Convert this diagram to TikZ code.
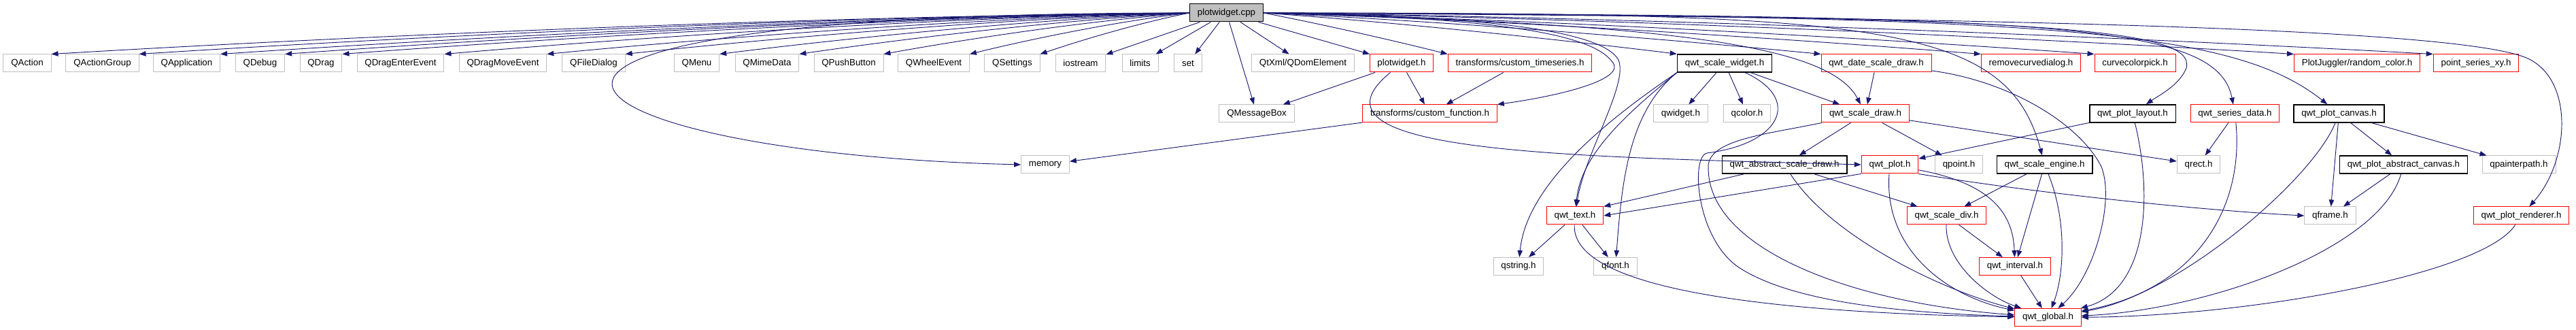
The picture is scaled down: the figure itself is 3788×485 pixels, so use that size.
\documentclass[tikz,border=0pt]{standalone}
\usepackage{fontspec}
\setmainfont{Liberation Sans}
\usepackage{tikz}
\usetikzlibrary{arrows.meta,calc}
\definecolor{depblue}{RGB}{25,25,112}
\definecolor{nodocgray}{RGB}{191,191,191}
\tikzset{
  hfile/.style={rectangle,font=\fontsize{10}{12}\selectfont,inner xsep=8.5pt,inner ysep=0pt,minimum height=19.5pt,fill=white,line width=0.75pt},
  rootfile/.style={hfile,draw=black,fill=nodocgray},
  extfile/.style={hfile,draw=nodocgray},
  docfile/.style={hfile,draw=black,line width=1.1pt},
  cutfile/.style={hfile,draw=red},
  dep/.style={-{Triangle[length=7.5pt,width=5.6pt]},line width=0.7pt,draw=depblue}
}

\begin{document}
\begin{tikzpicture}[x=0.75pt,y=0.75pt]
\useasboundingbox (0,0) rectangle (3788,485);

% files
\node[rootfile] (root) at (1803.5,466) {plotwidget.cpp};

\foreach \n/\x/\lab in {qaction/40/QAction,qactgroup/150.5/QActionGroup,qapp/274.5/QApplication,
  qdebug/382.5/QDebug,qdrag/472/QDrag,qdragenter/589/QDragEnterEvent,qdragmove/739.5/QDragMoveEvent,
  qfiledlg/873/QFileDialog,qmenu/1024.5/QMenu,qmimedata/1128/QMimeData,qpushbtn/1248/QPushButton,
  qwheel/1373/QWheelEvent,qsettings/1488.5/QSettings,iostream/1589/iostream,limits/1676.5/limits,
  set/1747/set,qtxml/1916/{QtXml/QDomElement}}{
  \node[extfile] (\n) at (\x,392) {\lab};
}
\foreach \n/\x/\lab in {pwidgeth/2061/plotwidget.h,ctimeser/2235/{transforms/custom\_timeseries.h},
  datedraw/2759/qwt\_date\_scale\_draw.h,rmcurve/2986.5/removecurvedialog.h,colorpick/3139.5/curvecolorpick.h,
  rndcolor/3466/{PlotJuggler/random\_color.h},ptseries/3641/point\_series\_xy.h}{
  \node[cutfile] (\n) at (\x,392) {\lab};
}
\node[docfile] (scalewidget) at (2536,392) {qwt\_scale\_widget.h};

\node[extfile] (qmsgbox) at (1848,318) {QMessageBox};
\node[cutfile] (cfunc) at (2102.5,318) {transforms/custom\_function.h};
\node[extfile] (qwidget) at (2471.5,318) {qwidget.h};
\node[extfile] (qcolor) at (2569,318) {qcolor.h};
\node[cutfile] (scaledraw) at (2743,318) {qwt\_scale\_draw.h};
\node[docfile] (plotlayout) at (3136,318) {qwt\_plot\_layout.h};
\node[cutfile] (seriesdata) at (3286.5,318) {qwt\_series\_data.h};
\node[docfile] (plotcanvas) at (3439.5,318) {qwt\_plot\_canvas.h};

\node[extfile] (memory) at (1537,243) {memory};
\node[docfile] (absdraw) at (2624,243) {qwt\_abstract\_scale\_draw.h};
\node[cutfile] (qwtplot) at (2779,243) {qwt\_plot.h};
\node[extfile] (qpoint) at (2880.5,243) {qpoint.h};
\node[docfile] (scaleengine) at (3006.5,243) {qwt\_scale\_engine.h};
\node[extfile] (qrect) at (3233,243) {qrect.h};
\node[docfile] (abscanvas) at (3534.5,243) {qwt\_plot\_abstract\_canvas.h};
\node[extfile] (qpainterpath) at (3704,243) {qpainterpath.h};

\node[cutfile] (qwttext) at (2316,168) {qwt\_text.h};
\node[cutfile] (scalediv) at (2862.5,168) {qwt\_scale\_div.h};
\node[extfile] (qframe) at (3426.5,168) {qframe.h};
\node[cutfile] (renderer) at (3707.5,168) {qwt\_plot\_renderer.h};

\node[extfile] (qstring) at (2233,93.5) {qstring.h};
\node[extfile] (qfont) at (2375.5,93.5) {qfont.h};
\node[cutfile] (interval) at (2963,93.5) {qwt\_interval.h};

\node[cutfile] (global) at (3011.5,18.5) {qwt\_global.h};

% includes of plotwidget.cpp
\foreach \n/\h in {qaction/16,qactgroup/16,qapp/15,qdebug/15,qdrag/14,qdragenter/14,qdragmove/13,qfiledlg/12,
  qmenu/11,qmimedata/10,qpushbtn/9,qwheel/8,qsettings/6}{
  \draw[dep] (root.west) .. controls ($(root.west)!0.35!(\n.north east)+(0,\h)$)
    and ($(root.west)!0.75!(\n.north east)+(0,0.6*\h)$) .. (\n.north east);
}
\foreach \n in {iostream,limits,set,qtxml,pwidgeth,qmsgbox}{
  \draw[dep] (root) -- (\n);
}
\foreach \n/\h in {ctimeser/3,scalewidget/6,datedraw/8,rmcurve/10,colorpick/11,rndcolor/13,ptseries/14}{
  \draw[dep] (root.east) .. controls ($(root.east)!0.35!(\n.north west)+(0,\h)$)
    and ($(root.east)!0.75!(\n.north west)+(0,0.6*\h)$) .. (\n.north west);
}
\draw[dep] (root.west) .. controls (520,466) and (800,260) .. (memory.west);
\draw[dep] (root.east) .. controls (2200,460) and (2340,435) .. (2370,395) .. controls (2395,370) and (2300,345) .. (cfunc.north east);
\draw[dep] (root.east) .. controls (2200,462) and (2350,438) .. (2378,400) .. controls (2400,370) and (2330,260) .. (qwttext);
\draw[dep] (root.east) .. controls (2450,450) and (2690,420) .. (scaledraw);
\draw[dep] (root.east) .. controls (2750,466) and (2950,455) .. (scaleengine);
\draw[dep] (root.east) .. controls (3000,462) and (3230,445) .. (3215,385) .. controls (3205,360) and (3175,345) .. (plotlayout);
\draw[dep] (root.east) .. controls (3000,462) and (3260,455) .. (seriesdata);
\draw[dep] (root.east) .. controls (3000,462) and (3280,445) .. (plotcanvas);
\draw[dep] (root.east) .. controls (2800,460) and (3600,448) .. (3715,400) .. controls (3785,370) and (3780,250) .. (renderer);

% second level
\draw[dep] (pwidgeth) -- (qmsgbox);
\draw[dep] (pwidgeth) -- (cfunc);
\draw[dep] (pwidgeth) .. controls (1900,260) and (2300,255) .. (qwtplot.west);
\draw[dep] (ctimeser) -- (cfunc);
\draw[dep] (cfunc) -- (memory);

\draw[dep] (scalewidget.south west) .. controls (2380,320) and (2245,220) .. (qstring);
\draw[dep] (scalewidget.south west) .. controls (2395,320) and (2325,260) .. (qwttext);
\draw[dep] (scalewidget.south west) .. controls (2395,320) and (2385,220) .. (qfont);
\draw[dep] (scalewidget) -- (qwidget);
\draw[dep] (scalewidget) -- (qcolor);
\draw[dep] (scalewidget) -- (scaledraw);
\draw[dep] (scalewidget) .. controls (2650,340) and (2620,274) .. (2510,260) .. controls (2485,254) and (2495,130) .. (2560,90) .. controls (2640,40) and (2800,25) .. (global);

\draw[dep] (datedraw) .. controls (2960,365) and (3060,300) .. (3090,240) .. controls (3110,190) and (3080,80) .. (global);
\draw[dep] (datedraw) -- (scaledraw);

\draw[dep] (scaledraw) -- (absdraw);
\draw[dep] (scaledraw) -- (qpoint);
\draw[dep] (scaledraw) -- (qrect);
\draw[dep] (scaledraw) .. controls (2600,288) and (2512,280) .. (2512,240) .. controls (2510,120) and (2720,40) .. (global);

\draw[dep] (absdraw) -- (qwttext.north east);
\draw[dep] (absdraw) -- (scalediv);
\draw[dep] (absdraw) .. controls (2690,140) and (2850,60) .. (global);

\draw[dep] (qwtplot.south west) -- (qwttext.east);
\draw[dep] (qwtplot) .. controls (2770,120) and (2860,50) .. (global);
\draw[dep] (qwtplot) .. controls (2930,215) and (2960,170) .. (interval);
\draw[dep] (qwtplot.south east) .. controls (3000,200) and (3250,175) .. (qframe.west);

\draw[dep] (plotlayout) -- (qwtplot);
\draw[dep] (plotlayout) .. controls (3165,200) and (3160,60) .. (global);

\draw[dep] (scaleengine) -- (scalediv);
\draw[dep] (scaleengine) -- (interval);
\draw[dep] (scaleengine) .. controls (3040,160) and (3035,80) .. (global);

\draw[dep] (scalediv) -- (interval);
\draw[dep] (scalediv) .. controls (2860,100) and (2920,50) .. (global);
\draw[dep] (interval) -- (global);

\draw[dep] (seriesdata) -- (qrect);
\draw[dep] (seriesdata) .. controls (3300,180) and (3230,60) .. (global);

\draw[dep] (plotcanvas) -- (abscanvas);
\draw[dep] (plotcanvas) -- (qpainterpath);
\draw[dep] (plotcanvas) -- (qframe);
\draw[dep] (plotcanvas) .. controls (3400,220) and (3200,50) .. (global);

\draw[dep] (abscanvas) -- (qframe);
\draw[dep] (abscanvas) .. controls (3500,120) and (3250,30) .. (global);

\draw[dep] (renderer) .. controls (3650,80) and (3300,20) .. (global);

\draw[dep] (qwttext) -- (qstring);
\draw[dep] (qwttext) -- (qfont);
\draw[dep] (qwttext) .. controls (2310,60) and (2600,25) .. (global);

\end{tikzpicture}
\end{document}
